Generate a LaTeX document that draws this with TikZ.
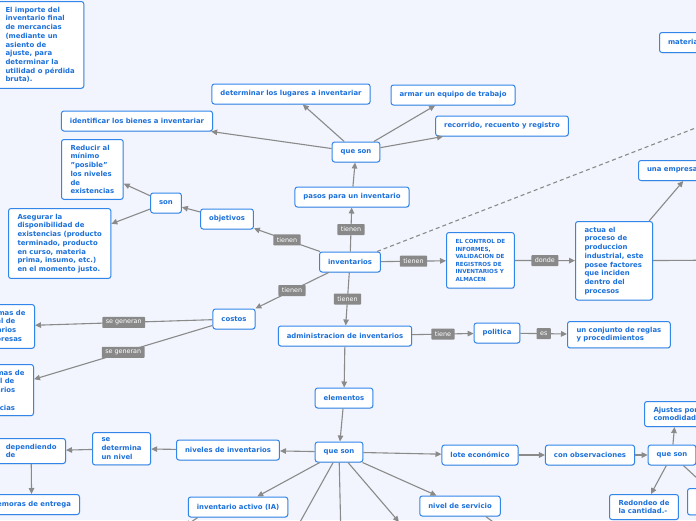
\documentclass[tikz,border=0pt]{standalone}
\usepackage{fontspec}
\setmainfont{DejaVu Sans}
\usetikzlibrary{arrows.meta,shadows}
\definecolor{bgblue}{RGB}{242,245,253}
\definecolor{txtblue}{RGB}{28,112,218}
\definecolor{edgeblue}{RGB}{50,134,234}
\definecolor{linegray}{RGB}{138,138,138}
\definecolor{taggray}{RGB}{137,137,137}

\begin{document}
\begin{tikzpicture}[x=1pt,y=-1pt,
    box/.style={draw=edgeblue, line width=1pt, fill=white, rounded corners=2.5pt, text=txtblue,
        font=\fontsize{6.9}{8.7}\selectfont\bfseries, inner xsep=8.5pt, inner ysep=5.5pt, minimum height=20pt,
        drop shadow={shadow xshift=0.5pt, shadow yshift=-0.8pt, opacity=0.2}},
    note/.style={box, align=left, inner xsep=9pt},
    tag/.style={fill=taggray, text=white, font=\fontsize{6.4}{7}\selectfont, inner xsep=3.5pt, inner ysep=0pt,
        minimum height=11pt, rounded corners=0.8pt},
    link/.style={draw=linegray, line width=1.1pt, -{Triangle[length=6pt,width=5.5pt]}},
]
    \useasboundingbox (0,0) rectangle (696,520);
    \fill[bgblue] (0,0) rectangle (696,520);
    \clip (0,0) rectangle (696,520);

    \node[note, anchor=north west] (importe) at (-4,1) {El importe del\\inventario final\\de mercancias\\(mediante un\\asiento de\\ajuste, para\\determinar la\\utilidad o pérdida\\bruta).};
    \node[box] (identificar) at (137,121) {identificar los bienes a inventariar};
    \node[box] (lugares) at (291,94) {determinar los lugares a inventariar};
    \node[box] (equipo) at (453,95) {armar un equipo de trabajo};
    \node[box] (recorrido) at (502,126) {recorrido, recuento y registro};
    \node[box] (quesonA) at (356,152) {que son};
    \node[box] (pasos) at (352,197) {pasos para un inventario};
    \node[note, anchor=north west] (reducir) at (61,139) {Reducir al\\mínimo\\"posible"\\los niveles\\de\\existencias};
    \node[box] (son) at (166,203) {son};
    \node[box] (objetivos) at (227,219) {objetivos};
    \node[note, anchor=north west] (asegurar) at (8,208) {Asegurar la\\disponibilidad de\\existencias (producto\\terminado, producto\\en curso, materia\\prima, insumo, etc.)\\en el momento justo.};
    \node[box] (inventarios) at (350,262) {inventarios};
    \node[note, anchor=north west, font=\fontsize{5.6}{7.5}\selectfont\bfseries, inner ysep=7pt] (control) at (446,232) {EL CONTROL DE\\INFORMES,\\VALIDACION DE\\REGISTROS DE\\INVENTARIOS Y\\ALMACEN};
    \node[note, anchor=north west] (actua) at (575,221) {actua el\\proceso de\\produccion\\industrial, este\\posee factores\\que inciden\\dentro del\\procesos};
    \node[box, anchor=north west] (empresa) at (638,160) {una empresa};
    \node[box, anchor=north west] (materia) at (659,32) {materia prima};
    \node[box] (admin) at (345,336) {administracion de inventarios};
    \node[box] (politica) at (497,333) {politica};
    \node[note, anchor=north west] (reglas) at (567,321) {un conjunto de reglas\\y procedimientos};
    \node[box] (costos) at (234,319) {costos};
    \node[note, anchor=north east] (problemasA) at (35,304) {Problemas de\\un nivel de\\inventarios\\en empresas};
    \node[note, anchor=north east] (problemasB) at (34,364) {Problemas de\\un nivel de\\inventarios\\en las\\existencias};
    \node[note, anchor=north west] (determina) at (92,432) {se\\determina\\un nivel};
    \node[note, anchor=north east] (dependiendo) at (66,438) {dependiendo\\de};
    \node[box, anchor=north east] (demoras) at (80,494) {demoras de entrega};
    \node[box] (niveles) at (228,450) {niveles de inventarios};
    \node[box] (elementos) at (344,398) {elementos};
    \node[box] (quesonB) at (339,452) {que son};
    \node[box] (activo) at (238,507) {inventario activo (IA)};
    \node[box] (servicio) at (460,506) {nivel de servicio};
    \node[box] (lote) at (480,455) {lote económico};
    \node[box] (observaciones) at (590,455) {con observaciones};
    \node[box] (quesonC) at (672,455) {que son};
    \node[note, anchor=north west] (ajustes) at (644,401) {Ajustes por\\comodidad};
    \node[note, anchor=north west] (redondeo) at (609,494) {Redondeo de\\la cantidad.-};
    \node[note, anchor=north west] (seguridad) at (687,488) {Inventario de\\seguridad};

    \coordinate (lejos) at (760,103);
    \coordinate (actuasale) at (740,260);
    \coordinate (salidaA) at (290,540);
    \coordinate (salidaB) at (341,540);
    \coordinate (salidaC) at (399,522);
    \coordinate (salidaIA) at (185,526);
    \coordinate (salidaNS) at (500,527);

    \draw[link] (quesonA) -- (identificar);
    \draw[link] (quesonA) -- (lugares);
    \draw[link] (quesonA) -- (equipo);
    \draw[link] (quesonA) -- (recorrido);
    \draw[link] (pasos) -- (quesonA);
    \draw[link] (inventarios) -- (pasos) node[pos=0.5, tag] {tienen};
    \draw[link] (inventarios) -- (objetivos) node[pos=0.5, tag] {tienen};
    \draw[link] (objetivos) -- (son);
    \draw[link] (son) -- (reducir);
    \draw[link] (son) -- (asegurar);
    \draw[link] (inventarios) -- (costos) node[pos=0.5, tag] {tienen};
    \draw[link] (costos) -- (problemasA) node[pos=0.5, tag] {se generan};
    \draw[link] (costos) -- (problemasB) node[pos=0.5, tag] {se generan};
    \draw[link] (inventarios) -- (admin) node[pos=0.5, tag] {tienen};
    \draw[link] (inventarios) -- (control) node[pos=0.5, tag] {tienen};
    \draw[link, -, dash pattern=on 4pt off 3pt] (inventarios) -- (lejos);
    \draw[link] (control) -- (actua) node[pos=0.5, tag] {donde};
    \draw[link] ([xshift=-4pt]actua.north east) -- ([xshift=11pt]empresa.south);
    \draw[link] (actua) -- (actuasale);
    \draw[link] (admin) -- (politica) node[pos=0.5, tag] {tiene};
    \draw[link] (politica) -- (reglas) node[pos=0.5, tag] {es};
    \draw[link] (admin) -- (elementos);
    \draw[link] (elementos) -- (quesonB);
    \draw[link] (quesonB) -- (niveles);
    \draw[link] (niveles) -- (determina);
    \draw[link] (determina) -- (dependiendo);
    \draw[link] (dependiendo) -- (demoras);
    \draw[link] (quesonB) -- (activo);
    \draw[link] (quesonB) -- (salidaA);
    \draw[link] (quesonB) -- (salidaB);
    \draw[link] (quesonB) -- (salidaC);
    \draw[link] (quesonB) -- (servicio);
    \draw[link] (quesonB) -- (lote);
    \draw[link] ([xshift=10pt]activo.south west) -- (salidaIA);
    \draw[link] ([xshift=-15pt]servicio.south east) -- (salidaNS);
    \draw[link] (lote) -- (observaciones);
    \draw[link] (observaciones) -- (quesonC);
    \draw[link] (quesonC) -- (ajustes);
    \draw[link] (quesonC) -- (redondeo);
    \draw[link] (quesonC) -- (seguridad);
\end{tikzpicture}
\end{document}
